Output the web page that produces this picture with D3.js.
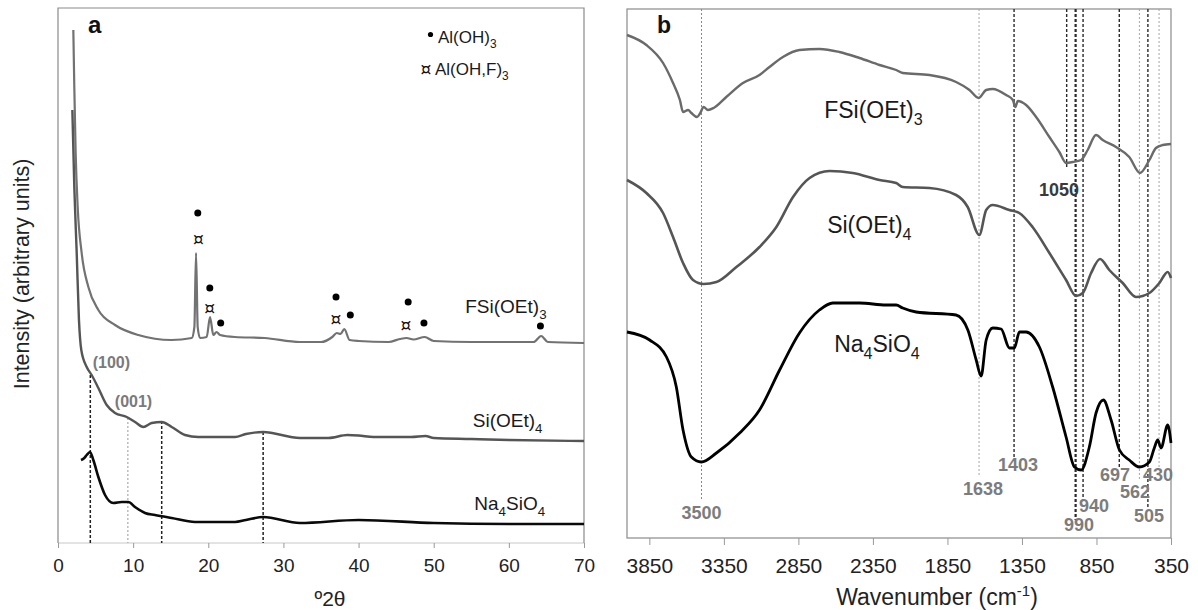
<!DOCTYPE html>
<html>
<head>
  <meta charset="utf-8">
  <title>XRD and FTIR</title>
  <script src="https://d3js.org/d3.v7.min.js"></script>
  <style>
    body { margin: 0; background: #fff; }
    text { font-family: "Liberation Sans", Arial, sans-serif; }
  </style>
</head>
<body>
<svg width="1198" height="610"></svg>
<script>

// ---- panel a: XRD, [2theta, intensity (arbitrary units)] ----
var xrdFSi = [[2.04,513],[2.17,456],[2.35,390],[2.62,336],[3.15,290],[4.04,256],[5.37,233],[7.59,218],
  [10.69,208],[15.1,203],[17.8,205],[18.15,216],[18.37,290],[18.59,216],[18.9,205],[19.79,206],
  [20.23,226],[20.67,208],[21.1,211],[21.56,208],[23.56,206],[27.5,205],[32.2,201],[35,201],
  [36.5,206],[37.1,210],[37.6,209],[38.1,214],[38.8,203],[40,202],[44,201],[45.5,204],[46.4,205],
  [47.3,203.5],[48.8,206],[50,202],[55,201],[60,201],[63.3,201],[64.3,207],[65.2,201],[70,200]];
var xrdSi = [[1.91,433],[2.17,356],[2.49,290],[2.79,223],[3.1,193],[3.82,176],[4.48,168],[5.37,155],
  [6.48,138],[7.59,130],[9.14,126],[10.25,121],[11.36,116],[12.47,120],[13.8,121],[15.13,116],
  [16.9,108],[18.67,106],[19.8,106],[23.56,106],[25,109],[27.3,111],[32.2,105],[36,105],[38.5,108],
  [40,107.5],[42,106],[47,106],[48.9,107],[50,105],[55,104],[60,103],[70,102]];
var xrdNa = [[3.06,83],[3.5,85],[3.82,88],[4.26,91],[4.7,83],[5.37,66],[6.26,48],[7.36,40],[8.47,41],
  [9.36,41],[10.25,36],[11.58,30],[12.9,28],[15.13,25],[18.23,21],[23.56,21],[25,23],[27.3,26],
  [32.2,20],[40,23],[50,20],[60,19],[70,19]];
var xrdTicks = [0, 10, 20, 30, 40, 50, 60, 70];
var xrdGuides = [4.3, 9.3, 13.8, 27.3];
var xrdGuideTops = [168, 125, 122, 111];
var xrdPlanes = [["(100)", 7.1, 175], ["(001)", 10.05, 136]];
var alohPeaks = [[18.6,330],[20.2,255],[21.65,220],[37.0,246],[38.9,228],[46.6,241],[48.7,220],[64.2,217]];
var alohfPeaks = [[18.67,304],[20.2,235],[37.0,224],[46.3,218]];
var xrdNames = [["FSi(OEt)_3", 54.2, 230], ["Si(OEt)_4", 55.2, 116], ["Na_4SiO_4", 55.4, 33]];

// ---- panel b: FTIR, [wavenumber, transmittance (arbitrary units)] ----
var irFSi = [[4000,503],[3870,493],[3758,475],[3691,455],[3645,438],[3624,426],[3590,428],[3568,425],
  [3530,421],[3508,425],[3486,431],[3457,428],[3419,430],[3334,441],[3222,455],[3111,463],[3044,471],
  [2954,481],[2843,488],[2709,489],[2575,486],[2440,480],[2306,473],[2194,468],[2150,465],[1971,463],
  [1792,456],[1702,448],[1640,440],[1590,448],[1546,449],[1456,443],[1411,438],[1394,431],[1378,437],
  [1322,433],[1255,421],[1166,401],[1099,386],[1054,375],[1009,376],[953,378],[909,388],[853,403],
  [808,398],[719,391],[630,381],[558,365],[495,378],[451,390],[406,393],[350,394]];
var irSi = [[4000,358],[3870,345],[3758,325],[3691,301],[3624,275],[3557,258],[3486,254],[3400,256],
  [3266,271],[3111,291],[2998,311],[2886,341],[2775,360],[2641,367],[2485,365],[2306,358],[2194,355],
  [2150,351],[1971,350],[1792,343],[1714,331],[1636,303],[1590,328],[1546,333],[1435,328],[1368,325],
  [1279,311],[1166,285],[1054,258],[987,242],[942,245],[886,265],[826,279],[764,268],[674,255],
  [585,241],[495,245],[428,255],[372,266],[350,260]];
var irNa = [[4000,206],[3848,198],[3735,181],[3669,151],[3624,108],[3568,81],[3501,76],[3400,85],
  [3244,105],[3111,128],[2976,168],[2843,205],[2709,228],[2619,235],[2440,235],[2261,233],[2194,233],
  [2150,230],[2060,226],[1792,223],[1713,208],[1657,178],[1624,162],[1590,198],[1546,210],[1490,209],
  [1434,190],[1401,190],[1367,206],[1322,206],[1233,191],[1144,151],[1054,101],[998,71],[953,68],
  [898,91],[853,125],[804,138],[752,118],[696,88],[630,78],[562,71],[495,76],[462,90],[439,98],
  [417,90],[372,113],[350,95]];
var irTicks = [3850, 3350, 2850, 2350, 1850, 1350, 850, 350];
var irBands = [3500, 1638, 1403, 1050, 990, 940, 697, 562, 505, 430];
var irBandEnds = [38, 63, 81, 371, 18, 38, 70, 58, 31, 71];
var irBandLabels = [["3500",3500,19],["1638",1611,43],["1403",1376,67],["1050",1101,342],["940",866,26],
  ["990",967,7],["697",725,57],["562",591,40],["505",497,16],["430",437,57]];
var irNames = [["FSi(OEt)_3", 2677, 420], ["Si(OEt)_4", 2657, 305], ["Na_4SiO_4", 2610, 186]];

var svg = d3.select("svg");

var xA = d3.scaleLinear().domain([0, 70]).range([58, 584]);
var yA = d3.scaleLinear().domain([0, 535]).range([543, 8]);
var xB = d3.scaleLinear().domain([4000, 350]).range([627, 1171]);
var yB = d3.scaleLinear().domain([0, 529]).range([538, 9]);

// text with "_x" one-character subscripts
function rich(t, str, fs) {
  var parts = str.split(/(_.)/);
  var down = false;
  parts.forEach(function(p) {
    if (!p) return;
    if (p[0] === "_") {
      t.append("tspan").attr("dy", fs * 0.3).style("font-size", (fs * 0.7) + "px").text(p[1]);
      down = true;
    } else {
      t.append("tspan").attr("dy", down ? -fs * 0.3 : 0).text(p);
      down = false;
    }
  });
}

// ---------- panel a ----------
var gA = svg.append("g");

gA.append("line").attr("x1", 58).attr("x2", 584).attr("y1", 543).attr("y2", 543)
  .attr("stroke", "#c8c8c8").attr("stroke-width", 1);
gA.append("path")
  .attr("d", "M58,543V8H584V543")
  .attr("fill", "none").attr("stroke", "#8a8a8a").attr("stroke-width", 1.2);

var axA = gA.append("g").attr("transform", "translate(0,543)")
  .call(d3.axisBottom(xA).tickValues(xrdTicks).tickSize(5).tickPadding(11));
axA.select(".domain").remove();
axA.selectAll(".tick line").attr("stroke", "#999");
axA.selectAll(".tick text").style("font-size", "19px").attr("fill", "#222")
  .style("font-family", "Liberation Sans, Arial, sans-serif");

// guide lines
xrdGuides.forEach(function(v, i) {
  var light = (v === 9.3);
  gA.append("line")
    .attr("x1", xA(v)).attr("x2", xA(v))
    .attr("y1", yA(xrdGuideTops[i])).attr("y2", yA(0))
    .attr("stroke", light ? "#999" : "#222")
    .attr("stroke-width", light ? 1 : 1.5)
    .attr("stroke-dasharray", light ? "2,2" : "3,2");
});

var lineA = d3.line().x(function(d) { return xA(d[0]); }).y(function(d) { return yA(d[1]); })
  .curve(d3.curveMonotoneX);

gA.append("path").datum(xrdFSi).attr("d", lineA)
  .attr("fill", "none").attr("stroke", "#727272").attr("stroke-width", 2.2);
gA.append("path").datum(xrdSi).attr("d", lineA)
  .attr("fill", "none").attr("stroke", "#555").attr("stroke-width", 2.4);
gA.append("path").datum(xrdNa).attr("d", lineA)
  .attr("fill", "none").attr("stroke", "#0a0a0a").attr("stroke-width", 2.6);

// phase markers
gA.selectAll(".dot").data(alohPeaks).enter().append("circle")
  .attr("cx", function(d) { return xA(d[0]); })
  .attr("cy", function(d) { return yA(d[1]); })
  .attr("r", 3.5).attr("fill", "#000");
gA.selectAll(".cur").data(alohfPeaks).enter().append("text")
  .attr("x", function(d) { return xA(d[0]); })
  .attr("y", function(d) { return yA(d[1]); })
  .attr("dy", "0.33em").attr("text-anchor", "middle")
  .style("font-family", "DejaVu Sans, sans-serif")
  .style("font-size", "17px").attr("fill", "#111").text("\u00a4");

xrdPlanes.forEach(function(p) {
  gA.append("text").attr("x", xA(p[1])).attr("y", yA(p[2]))
    .attr("text-anchor", "middle").style("font-size", "16px").style("font-weight", "bold")
    .attr("fill", "#7a7a7a").text(p[0]);
});

xrdNames.forEach(function(n) {
  var t = gA.append("text").attr("x", xA(n[1])).attr("y", yA(n[2]))
    .style("font-size", "19px").attr("fill", "#1a1a1a");
  rich(t, n[0], 19);
});

// legend
gA.append("circle").attr("cx", 430.5).attr("cy", 34.5).attr("r", 2.6).attr("fill", "#000");
rich(gA.append("text").attr("x", 438).attr("y", 43).style("font-size", "17px").attr("fill", "#1a1a1a"),
  "Al(OH)_3", 17);
gA.append("text").attr("x", 426).attr("y", 69).attr("dy", "0.33em").attr("text-anchor", "middle")
  .style("font-family", "DejaVu Sans, sans-serif")
  .style("font-size", "17px").attr("fill", "#111").text("\u00a4");
rich(gA.append("text").attr("x", 435).attr("y", 75).style("font-size", "17px").attr("fill", "#1a1a1a"),
  "Al(OH,F)_3", 17);

gA.append("text").attr("x", 88).attr("y", 33).style("font-size", "24px").style("font-weight", "bold")
  .attr("fill", "#111").text("a");

gA.append("text").attr("x", 330).attr("y", 606).attr("text-anchor", "middle")
  .style("font-size", "21px").attr("fill", "#222").text("\u00ba2\u03b8");

gA.append("text").attr("transform", "translate(29,274) rotate(-90)")
  .attr("text-anchor", "middle").style("font-size", "21.5px").attr("fill", "#222")
  .text("Intensity (arbitrary units)");

// ---------- panel b ----------
var gB = svg.append("g");

gB.append("rect").attr("x", 627).attr("y", 9).attr("width", 544).attr("height", 529)
  .attr("fill", "none").attr("stroke", "#8a8a8a").attr("stroke-width", 1.2);

var axB = gB.append("g").attr("transform", "translate(0,538)")
  .call(d3.axisBottom(xB).tickValues(irTicks).tickFormat(d3.format("d")).tickSize(7).tickPadding(13));
axB.select(".domain").remove();
axB.selectAll(".tick line").attr("stroke", "#999");
axB.selectAll(".tick text").style("font-size", "21px").attr("fill", "#222")
  .style("font-family", "Liberation Sans, Arial, sans-serif");

var lightBands = [3500, 1638, 562, 430];
irBands.forEach(function(v, i) {
  var light = lightBands.indexOf(v) >= 0;
  gB.append("line")
    .attr("x1", xB(v)).attr("x2", xB(v))
    .attr("y1", yB(529)).attr("y2", yB(irBandEnds[i]))
    .attr("stroke", v === 3500 ? "#888" : (light ? "#a5a5a5" : "#2a2a2a"))
    .attr("stroke-width", light ? 1 : (v === 990 ? 2.2 : 1.4))
    .attr("stroke-dasharray", light ? "2,2" : "3,2");
});

var lineB = d3.line().x(function(d) { return xB(d[0]); }).y(function(d) { return yB(d[1]); })
  .curve(d3.curveMonotoneX);

gB.append("path").datum(irFSi).attr("d", lineB)
  .attr("fill", "none").attr("stroke", "#6a6a6a").attr("stroke-width", 2.4);
gB.append("path").datum(irSi).attr("d", lineB)
  .attr("fill", "none").attr("stroke", "#555").attr("stroke-width", 2.6);
gB.append("path").datum(irNa).attr("d", lineB)
  .attr("fill", "none").attr("stroke", "#000").attr("stroke-width", 2.8);

irBandLabels.forEach(function(l) {
  gB.append("text").attr("x", xB(l[1])).attr("y", yB(l[2]))
    .attr("text-anchor", "middle").style("font-size", "18px").style("font-weight", "bold")
    .attr("fill", l[0] === "1050" ? "#3a3a3a" : "#7c7c7c").text(l[0]);
});

irNames.forEach(function(n) {
  var t = gB.append("text").attr("x", xB(n[1])).attr("y", yB(n[2]))
    .style("font-size", "23px").attr("fill", "#1a1a1a");
  rich(t, n[0], 23);
});

gB.append("text").attr("x", 657).attr("y", 33).style("font-size", "23px").style("font-weight", "bold")
  .attr("fill", "#111").text("b");

var wt = gB.append("text").attr("x", 937).attr("y", 605).attr("text-anchor", "middle")
  .style("font-size", "23px").attr("fill", "#222");
wt.append("tspan").text("Wavenumber (cm");
wt.append("tspan").attr("dy", -9).style("font-size", "15px").text("-1");
wt.append("tspan").attr("dy", 9).text(")");

</script>
</body>
</html>
